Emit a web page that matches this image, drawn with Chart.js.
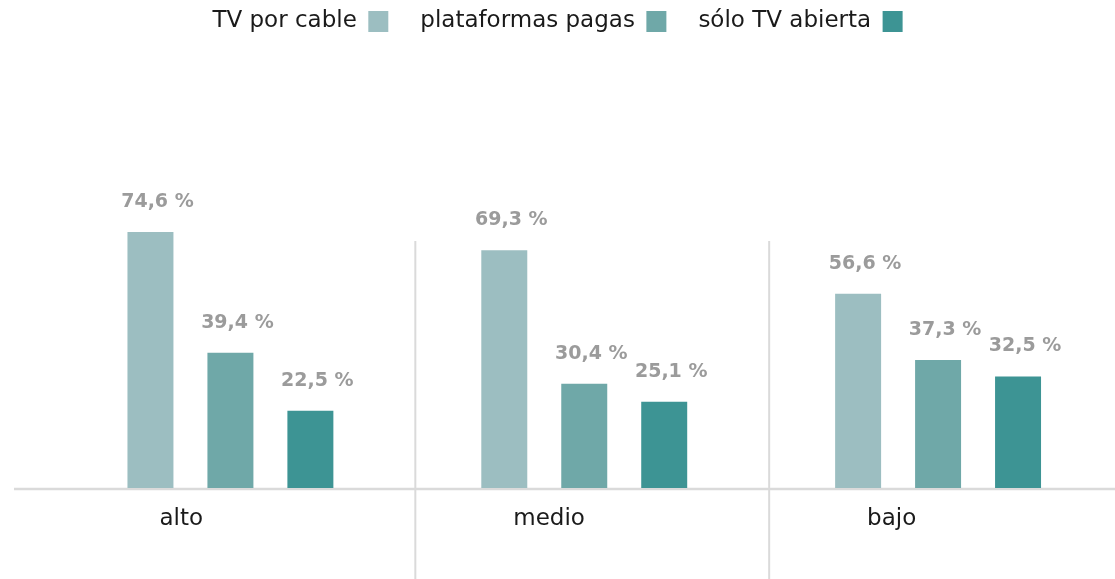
<!DOCTYPE html>
<html>
<head>
    <title>TV por nivel</title>
    <script src="https://cdn.jsdelivr.net/npm/chart.js"></script>
    <style>
        html, body { margin: 0; padding: 0; background: #fff; overflow: hidden; }
        #wrap { width: 1115px; height: 579px; position: relative; }
    </style>
</head>
<body>
    <div id="wrap"><canvas id="tvChart"></canvas></div>
    <script>
        // data
        var niveles = ['alto', 'medio', 'bajo'];
        var series = ['TV por cable', 'plataformas pagas', 'sólo TV abierta'];
        var cable = [74.6, 69.3, 56.6];
        var pagas = [39.4, 30.4, 37.3];
        var abierta = [22.5, 25.1, 32.5];
        var colores = ['#9cbec1', '#6fa8a8', '#3d9494'];

        var pxPorUnidad = 3.432;

        // fix the y range once the chart area is known
        var escalaY = {
            id: 'escalaY',
            afterLayout: function(chart) {
                var s = chart.scales.y;
                var area = chart.chartArea;
                s.min = 0;
                s.max = (area.bottom - area.top) / pxPorUnidad;
                s.configure();
            }
        };

        // vertical separators between groups + baseline
        var separadores = {
            id: 'separadores',
            beforeDatasetsDraw: function(chart) {
                var ctx = chart.ctx;
                var xs = chart.scales.x;
                var y0 = chart.scales.y.getPixelForValue(0);
                ctx.save();
                ctx.strokeStyle = '#dadada';
                ctx.lineWidth = 2;
                for (var i = 1; i < niveles.length; i++) {
                    var x = (xs.getPixelForValue(i - 1) + xs.getPixelForValue(i)) / 2 + 8;
                    ctx.beginPath();
                    ctx.moveTo(x, 241);
                    ctx.lineTo(x, chart.height);
                    ctx.stroke();
                }
                ctx.lineWidth = 2.5;
                ctx.beginPath();
                ctx.moveTo(14, y0 + 1);
                ctx.lineTo(chart.width, y0 + 1);
                ctx.stroke();
                ctx.restore();
            }
        };

        // value labels above the bars
        var valores = {
            id: 'valores',
            afterDatasetsDraw: function(chart) {
                var ctx = chart.ctx;
                ctx.save();
                ctx.font = 'bold 19px "DejaVu Sans"';
                ctx.fillStyle = '#9b9b9b';
                ctx.textAlign = 'center';
                ctx.textBaseline = 'middle';
                chart.data.datasets.forEach(function(ds, d) {
                    chart.getDatasetMeta(d).data.forEach(function(bar, i) {
                        var txt = ds.data[i].toFixed(1).replace('.', ',') + ' %';
                        ctx.fillText(txt, bar.x + 7, bar.y - 30);
                    });
                });
                ctx.restore();
            }
        };

        var ctx = document.getElementById('tvChart').getContext('2d');
        new Chart(ctx, {
            type: 'bar',
            data: {
                labels: niveles,
                datasets: [
                    { label: series[0], data: cable, backgroundColor: colores[0] },
                    { label: series[1], data: pagas, backgroundColor: colores[1] },
                    { label: series[2], data: abierta, backgroundColor: colores[2] }
                ]
            },
            options: {
                responsive: true,
                maintainAspectRatio: false,
                animation: false,
                layout: { padding: { left: 0, right: 0, top: -22, bottom: 0 } },
                datasets: {
                    bar: { categoryPercentage: 0.678, barPercentage: 0.575 }
                },
                plugins: {
                    tooltip: { enabled: false },
                    legend: {
                        position: 'top',
                        rtl: true,
                        reverse: true,
                        textDirection: 'ltr',
                        labels: {
                            boxWidth: 20,
                            boxHeight: 21,
                            padding: 32,
                            color: '#1a1a1a',
                            font: { family: '"DejaVu Sans"', size: 23 }
                        }
                    }
                },
                scales: {
                    x: {
                        grid: { display: false },
                        border: { display: false },
                        afterFit: function(s) { s.height = 91; },
                        ticks: {
                            align: 'start',
                            labelOffset: -71,
                            padding: 9,
                            color: '#1a1a1a',
                            font: { family: '"DejaVu Sans"', size: 23 }
                        }
                    },
                    y: {
                        display: true,
                        bounds: 'data',
                        grid: { display: false },
                        border: { display: false },
                        ticks: { display: false },
                        afterFit: function(s) { s.width = 53.5; }
                    }
                }
            },
            plugins: [escalaY, separadores, valores]
        });
    </script>
</body>
</html>
